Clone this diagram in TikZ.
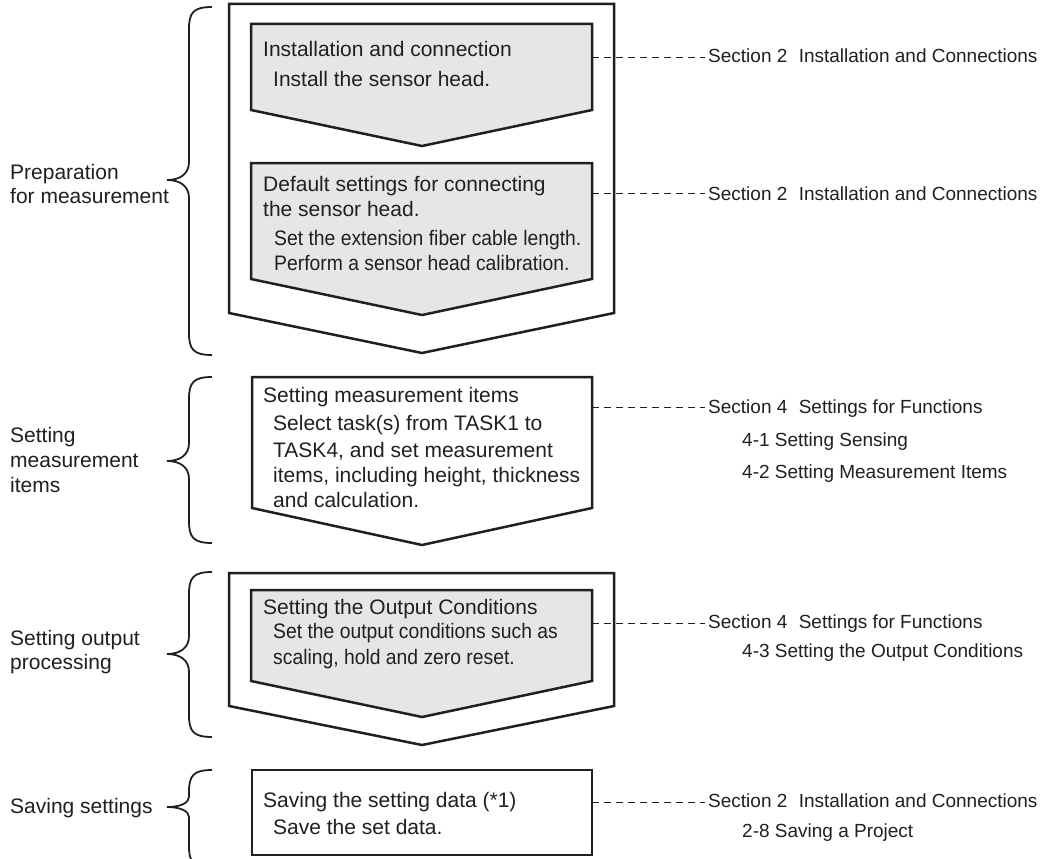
\documentclass[tikz,border=0pt]{standalone}
\usepackage{fontspec}
\setmainfont{Liberation Sans}
\newfontfamily\narrowsans[FakeStretch=0.92]{Liberation Sans}
\usetikzlibrary{calc}
\definecolor{ink}{HTML}{231F20}
\definecolor{shade}{HTML}{E6E6E6}

\begin{document}
\begin{tikzpicture}[x=1pt, y=-1pt, color=ink,
	flow/.style={line width=2.5pt, line join=miter},
	flowgray/.style={flow, fill=shade},
	curly/.style={line width=1.8pt},
	boxtext/.style={anchor=base west, inner sep=0pt, font=\fontsize{21}{25}\selectfont},
	narrowtext/.style={boxtext, font=\narrowsans\fontsize{21}{25}\selectfont},
	reftext/.style={anchor=base west, inner sep=0pt, font=\fontsize{19}{23}\selectfont},
	refline/.style={line width=0.9pt, dash pattern=on 7pt off 5pt}]
	\clip (0,0) rectangle (1041,859);
	\fill[white] (0,0) rectangle (1041,859);

	\draw[flow] (229,4) -- (614,4) -- (614,313) -- (422,353) -- (229,313) -- cycle;
	\draw[flowgray] (251,24) -- (592,24) -- (592,110) -- (422,146) -- (251,110) -- cycle;
	\draw[flowgray] (251,163) -- (592,163) -- (592,279) -- (422,315) -- (251,279) -- cycle;
	\draw[flow] (252,377) -- (592,377) -- (592,508) -- (422,545) -- (252,508) -- cycle;
	\draw[flow] (229,573) -- (614,573) -- (614,706) -- (422,745) -- (229,706) -- cycle;
	\draw[flowgray] (251,590) -- (592,590) -- (592,681) -- (422,717) -- (251,681) -- cycle;
	\draw[flow] (252,770) rectangle (592,855);

	\draw[curly] (212,7) .. controls (193,7) and (189,13) .. (189,29) -- (189,162) .. controls (189,174) and (180,180) .. (167,180) .. controls (180,180) and (189,186) .. (189,198) -- (189,333) .. controls (189,349) and (193,355) .. (212,355);
	\draw[curly] (212,377) .. controls (193,377) and (189,383) .. (189,399) -- (189,443) .. controls (189,455) and (180,461) .. (167,461) .. controls (180,461) and (189,467) .. (189,479) -- (189,521) .. controls (189,537) and (193,543) .. (212,543);
	\draw[curly] (212,572) .. controls (193,572) and (189,578) .. (189,594) -- (189,636) .. controls (189,648) and (180,654) .. (167,654) .. controls (180,654) and (189,660) .. (189,672) -- (189,715) .. controls (189,731) and (193,737) .. (212,737);
	\draw[curly] (212,770) .. controls (193,770) and (189,776) .. (189,792) -- (189,797) .. controls (189,803) and (180,807) .. (167,807) .. controls (180,807) and (189,811) .. (189,817) -- (189,846) .. controls (189,862) and (193,868) .. (212,868);

	\node[boxtext] (prep1) at (10,179) {Preparation};
	\node[boxtext] (prep2) at (10,203) {for measurement};
	\node[boxtext] (meas1) at (10,442) {Setting};
	\node[boxtext] (meas2) at (10,467) {measurement};
	\node[boxtext] (meas3) at (10,492) {items};
	\node[boxtext] (outp1) at (10,645) {Setting output};
	\node[boxtext] (outp2) at (10,669) {processing};
	\node[boxtext] (save1) at (10,813) {Saving settings};

	\node[boxtext] (inst1) at (263,57) {Installation and connection};
	\node[boxtext] (inst2) at (273,86) {Install the sensor head.};
	\node[boxtext] (dflt1) at (263,191) {Default settings for connecting};
	\node[boxtext] (dflt2) at (263,216) {the sensor head.};
	\node[narrowtext] (dflt3) at (274,245) {Set the extension fiber cable length.};
	\node[narrowtext] (dflt4) at (274,270) {Perform a sensor head calibration.};
	\node[boxtext] (item1) at (263,402) {Setting measurement items};
	\node[boxtext] (item2) at (273,430) {Select task(s) from TASK1 to};
	\node[boxtext] (item3) at (273,457) {TASK4, and set measurement};
	\node[boxtext] (item4) at (273,482) {items, including height, thickness};
	\node[boxtext] (item5) at (273,507) {and calculation.};
	\node[boxtext] (cond1) at (263,614) {Setting the Output Conditions};
	\node[narrowtext] (cond2) at (273,638) {Set the output conditions such as};
	\node[narrowtext] (cond3) at (273,664) {scaling, hold and zero reset.};
	\node[boxtext] (data1) at (263,807) {Saving the setting data (*1)};
	\node[boxtext] (data2) at (273,834) {Save the set data.};

	\node[reftext] (ref1) at (708,63) {Section 2\hspace{0.6em}Installation and Connections};
	\node[reftext] (ref2) at (708,200) {Section 2\hspace{0.6em}Installation and Connections};
	\node[reftext] (ref3) at (708,413) {Section 4\hspace{0.6em}Settings for Functions};
	\node[reftext] (ref3a) at (742,446) {4-1 Setting Sensing};
	\node[reftext] (ref3b) at (742,478) {4-2 Setting Measurement Items};
	\node[reftext] (ref4) at (708,628) {Section 4\hspace{0.6em}Settings for Functions};
	\node[reftext] (ref4a) at (742,657) {4-3 Setting the Output Conditions};
	\node[reftext] (ref5) at (708,807) {Section 2\hspace{0.6em}Installation and Connections};
	\node[reftext] (ref5a) at (742,837) {2-8 Saving a Project};

	\coordinate (edge1) at (592,57);
	\coordinate (edge2) at (592,193);
	\coordinate (edge3) at (592,407);
	\coordinate (edge4) at (592,623);
	\coordinate (edge5) at (592,802);
	\draw[refline] (edge1) -- ($(edge1 -| ref1.west)+(-3,0)$);
	\draw[refline] (edge2) -- ($(edge2 -| ref2.west)+(-3,0)$);
	\draw[refline] (edge3) -- ($(edge3 -| ref3.west)+(-3,0)$);
	\draw[refline] (edge4) -- ($(edge4 -| ref4.west)+(-3,0)$);
	\draw[refline] (edge5) -- ($(edge5 -| ref5.west)+(-3,0)$);
\end{tikzpicture}
\end{document}
